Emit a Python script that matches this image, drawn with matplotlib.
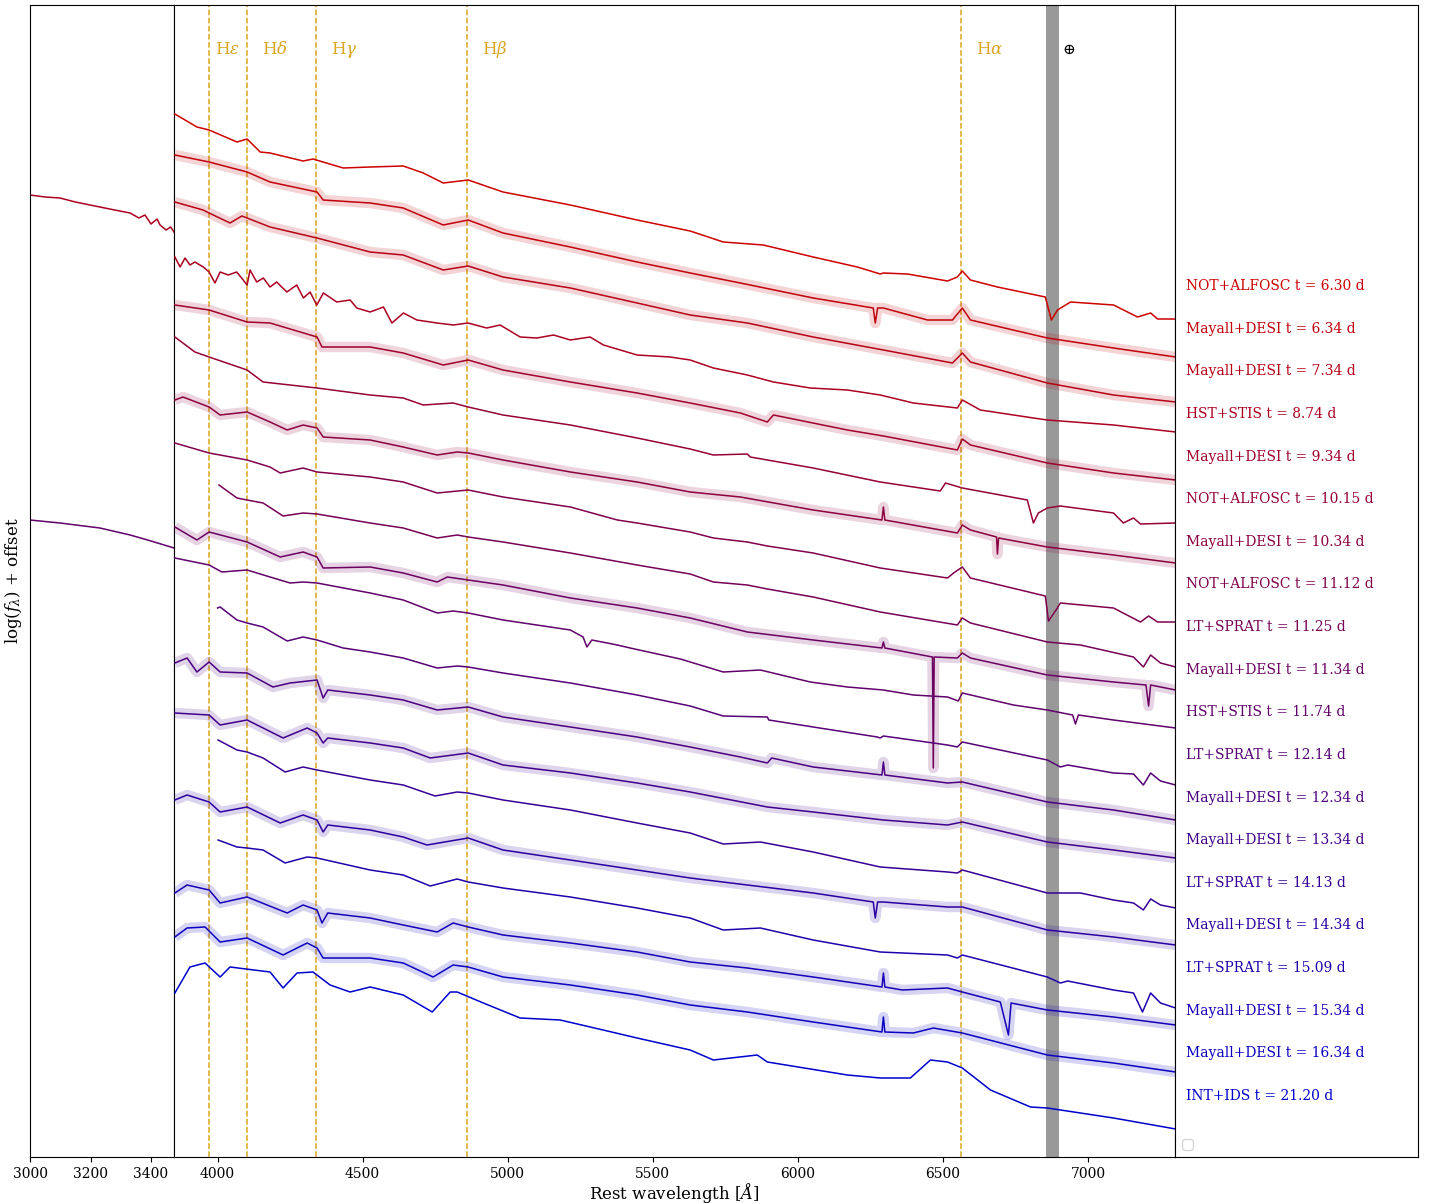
import numpy as np
import matplotlib
matplotlib.use('Agg')
import matplotlib.pyplot as plt

plt.rcParams['font.family'] = ['DejaVu Serif', 'DejaVu Sans']
plt.rcParams['mathtext.fontset'] = 'dejavuserif'

# ---------------- data (log f_lambda + offset, arbitrary units) ----------------
instruments = ["NOT+ALFOSC", "Mayall+DESI", "Mayall+DESI", "HST+STIS", "Mayall+DESI",
               "NOT+ALFOSC", "Mayall+DESI", "NOT+ALFOSC", "LT+SPRAT", "Mayall+DESI",
               "HST+STIS", "LT+SPRAT", "Mayall+DESI", "Mayall+DESI", "LT+SPRAT",
               "Mayall+DESI", "LT+SPRAT", "Mayall+DESI", "Mayall+DESI", "INT+IDS"]
phases = ["6.30", "6.34", "7.34", "8.74", "9.34", "10.15", "10.34", "11.12", "11.25", "11.34",
          "11.74", "12.14", "12.34", "13.34", "14.13", "14.34", "15.09", "15.34", "16.34", "21.20"]

balmer_wl = [3970.07, 4101.73, 4340.46, 4861.33, 6562.80]
balmer_names = [r'H$\epsilon$', r'H$\delta$', r'H$\gamma$', r'H$\beta$', r'H$\alpha$']
telluric = [6855, 6900]

# UV parts of the HST spectra (left panel)
wl_uv_874 = [3000, 3050, 3099, 3150, 3231, 3280, 3331, 3360, 3380, 3400, 3420, 3430, 3450, 3465, 3476]
f_uv_874 = [-195, -197, -198, -202, -207, -210, -213, -218, -215, -224, -219, -225, -230, -227, -232]
wl_uv_1174 = [3000, 3099, 3231, 3331, 3400, 3476]
f_uv_1174 = [-520, -523, -528, -535, -541, -548]

wl_01 = [3853, 3929, 3971, 4067, 4102, 4147, 4181, 4295, 4329, 4433, 4526, 4640, 4709, 4778, 4864, 4984,
         5216, 5446, 5629, 5743, 5881, 6053, 6205, 6284, 6295, 6378, 6516, 6550, 6567, 6595, 6688, 6853,
         6874, 6895, 6940, 7088, 7171, 7216, 7240, 7302]
f_01 = [-114, -127, -130, -142, -139, -152, -153, -161, -159, -168, -167, -166, -173, -183, -180, -192,
        -205, -220, -231, -242, -245, -257, -267, -274, -273, -274, -281, -277, -271, -280, -287, -297,
        -320, -310, -302, -305, -317, -313, -319, -319]

wl_02 = [3853, 3971, 4102, 4181, 4343, 4364, 4526, 4640, 4778, 4864, 4984, 5216, 5446, 5629, 5802, 6053,
         6260, 6267, 6275, 6295, 6447, 6533, 6567, 6595, 6860, 7088, 7302]
f_02 = [-155, -162, -172, -182, -192, -200, -203, -208, -225, -220, -233, -247, -262, -273, -283, -298,
        -308, -323, -308, -308, -320, -320, -308, -320, -338, -348, -357]

wl_03 = [3853, 3950, 3971, 4043, 4084, 4181, 4343, 4526, 4640, 4778, 4864, 4984, 5216, 5446, 5629, 5826,
         6053, 6295, 6533, 6567, 6595, 6860, 7088, 7302]
f_03 = [-202, -210, -213, -223, -216, -227, -238, -252, -255, -270, -266, -277, -288, -303, -315, -323,
        -337, -350, -363, -353, -362, -383, -395, -402]

wl_04 = [3853, 3871, 3888, 3905, 3922, 3951, 3971, 3991, 4009, 4037, 4066, 4083, 4102, 4112, 4135,
         4158, 4181, 4204, 4239, 4273, 4296, 4319, 4342, 4365, 4411, 4457, 4480, 4526, 4572, 4601,
         4641, 4687, 4756, 4813, 4863, 4928, 4974, 5043, 5101, 5158, 5216, 5284, 5330, 5446, 5560,
         5629, 5709, 5826, 5916, 6043, 6171, 6284, 6398, 6550, 6567, 6629, 6812, 6860, 7088, 7302]
f_04 = [-257, -267, -258, -265, -262, -267, -272, -283, -272, -275, -272, -278, -285, -270, -282,
        -278, -287, -282, -292, -285, -298, -292, -305, -293, -302, -300, -308, -312, -307, -323,
        -313, -320, -323, -325, -323, -328, -325, -337, -338, -335, -340, -337, -345, -355, -357,
        -360, -368, -375, -382, -388, -390, -395, -403, -408, -400, -410, -418, -420, -425, -432]

wl_05 = [3853, 3971, 4102, 4181, 4343, 4360, 4526, 4640, 4778, 4864, 4984, 5216, 5446, 5629, 5802, 5895,
         5916, 6171, 6295, 6550, 6567, 6595, 6860, 7088, 7302]
f_05 = [-305, -310, -322, -323, -337, -347, -347, -353, -365, -360, -370, -382, -393, -403, -413, -422,
        -415, -430, -436, -450, -439, -445, -463, -473, -480]

wl_06 = [3853, 3922, 3971, 4102, 4157, 4343, 4526, 4640, 4709, 4812, 4864, 4984, 5216, 5446, 5629, 5709,
         5826, 5836, 6053, 6284, 6491, 6509, 6567, 6791, 6812, 6829, 6860, 6905, 7088, 7122, 7157, 7181, 7302]
f_06 = [-337, -352, -357, -370, -382, -388, -395, -398, -405, -403, -407, -415, -425, -438, -449, -455,
        -454, -457, -468, -482, -491, -483, -488, -500, -523, -513, -508, -506, -513, -523, -518, -524, -523]

wl_07 = [3853, 3881, 3971, 4009, 4102, 4181, 4240, 4295, 4343, 4364, 4526, 4640, 4757, 4826, 4864, 4984,
         5216, 5446, 5629, 5802, 6053, 6290, 6295, 6300, 6550, 6567, 6595, 6685, 6688, 6692, 6860, 7088, 7302]
f_07 = [-400, -397, -407, -415, -412, -422, -430, -425, -428, -437, -440, -447, -455, -452, -453, -460,
        -472, -482, -492, -497, -510, -520, -507, -520, -533, -525, -530, -537, -554, -538, -547, -555, -563]

wl_08 = [3853, 3971, 4102, 4181, 4216, 4295, 4343, 4526, 4640, 4757, 4864, 4984, 5216, 5378, 5446, 5629,
         5709, 5826, 5895, 6053, 6284, 6516, 6537, 6567, 6595, 6853, 6864, 6890, 6905, 7088, 7181, 7209,
         7240, 7302]
f_08 = [-443, -453, -460, -467, -473, -468, -472, -477, -482, -493, -490, -497, -507, -520, -523, -532,
        -538, -542, -546, -553, -568, -578, -573, -567, -578, -596, -621, -610, -603, -608, -622, -616,
        -622, -622]

wl_09 = [4005, 4067, 4102, 4157, 4226, 4295, 4343, 4526, 4640, 4757, 4826, 4864, 4984, 5216, 5446, 5629,
         5709, 5826, 5895, 6053, 6284, 6550, 6567, 6595, 6860, 6974, 7157, 7191, 7216, 7250, 7302]
f_09 = [-485, -498, -500, -503, -516, -513, -514, -523, -528, -538, -535, -537, -542, -553, -565, -574,
        -582, -585, -589, -597, -612, -625, -618, -623, -642, -645, -657, -667, -655, -663, -667]

wl_10 = [3853, 3929, 3971, 4102, 4216, 4295, 4343, 4364, 4526, 4640, 4757, 4792, 4864, 4984, 5216, 5446,
         5629, 5826, 6053, 6290, 6295, 6300, 6464, 6467, 6470, 6550, 6567, 6595, 6860, 7088, 7200, 7209,
         7216, 7302]
f_10 = [-527, -540, -532, -542, -557, -552, -557, -568, -567, -573, -582, -577, -580, -585, -598, -608,
        -618, -632, -640, -648, -642, -648, -657, -768, -657, -658, -653, -658, -675, -682, -685, -706,
        -685, -690]

wl_11 = [3853, 3971, 4015, 4102, 4181, 4250, 4295, 4343, 4526, 4640, 4757, 4812, 4864, 4984, 5216, 5260,
         5273, 5290, 5378, 5422, 5595, 5743, 5871, 6043, 6171, 6295, 6398, 6516, 6553, 6567, 6743, 6860,
         6947, 6957, 6967, 7088, 7302]
f_11 = [-558, -565, -572, -570, -577, -583, -582, -583, -593, -600, -613, -611, -613, -620, -630, -637,
        -647, -640, -645, -648, -659, -672, -670, -682, -687, -690, -695, -697, -701, -693, -705, -710,
        -715, -724, -715, -720, -728]

wl_12 = [4000, 4009, 4067, 4102, 4157, 4240, 4295, 4343, 4433, 4526, 4640, 4757, 4826, 4864, 4984, 5216,
         5446, 5629, 5743, 5895, 5900, 6053, 6274, 6284, 6295, 6516, 6550, 6567, 6860, 6905, 6930, 7088,
         7157, 7191, 7216, 7250, 7302]
f_12 = [-608, -607, -620, -623, -627, -641, -637, -640, -648, -652, -658, -668, -666, -667, -673, -683,
        -695, -706, -716, -717, -720, -727, -737, -738, -736, -745, -747, -742, -760, -767, -765, -773,
        -774, -785, -773, -781, -785]

wl_13 = [3853, 3895, 3929, 3971, 4009, 4102, 4191, 4250, 4343, 4364, 4380, 4526, 4640, 4757, 4864, 4984,
         5216, 5446, 5629, 5802, 5895, 5910, 6053, 6290, 6295, 6300, 6516, 6567, 6860, 7088, 7302]
f_13 = [-663, -658, -672, -662, -672, -673, -687, -683, -680, -698, -690, -695, -700, -710, -707, -717,
        -727, -737, -747, -757, -763, -758, -767, -775, -762, -775, -783, -782, -802, -810, -820]

wl_14 = [3853, 3971, 4009, 4102, 4226, 4309, 4343, 4364, 4380, 4526, 4640, 4733, 4864, 4984, 5216, 5446,
         5629, 5895, 6053, 6295, 6516, 6567, 6860, 7088, 7302]
f_14 = [-713, -715, -725, -720, -738, -728, -733, -743, -738, -743, -748, -758, -753, -765, -773, -783,
        -792, -807, -812, -820, -825, -822, -842, -850, -858]

wl_15 = [4002, 4067, 4102, 4157, 4233, 4295, 4343, 4526, 4640, 4750, 4826, 4864, 4984, 5216, 5446, 5629,
         5743, 5871, 6053, 6284, 6516, 6550, 6567, 6860, 6974, 7088, 7157, 7191, 7216, 7250, 7302]
f_15 = [-740, -750, -752, -758, -772, -767, -770, -780, -785, -796, -792, -793, -800, -810, -823, -833,
        -844, -842, -852, -867, -872, -873, -870, -893, -893, -900, -903, -910, -899, -905, -908]

wl_16 = [3853, 3895, 3971, 4009, 4102, 4216, 4295, 4343, 4364, 4380, 4526, 4640, 4722, 4864, 4984, 5216,
         5446, 5629, 5826, 6053, 6260, 6267, 6275, 6295, 6516, 6567, 6860, 7088, 7302]
f_16 = [-800, -795, -802, -812, -807, -823, -815, -820, -832, -825, -830, -837, -845, -838, -850, -860,
        -870, -878, -885, -893, -902, -918, -902, -902, -907, -907, -930, -937, -945]

wl_17 = [4002, 4067, 4102, 4157, 4233, 4309, 4343, 4526, 4640, 4733, 4826, 4864, 4984, 5216, 5446, 5629,
         5743, 5871, 6053, 6284, 6516, 6550, 6567, 6860, 6905, 6930, 7088, 7157, 7188, 7216, 7250, 7302]
f_17 = [-840, -847, -848, -850, -863, -857, -858, -870, -875, -886, -879, -882, -888, -897, -908, -918,
        -930, -928, -940, -952, -955, -958, -955, -977, -983, -981, -990, -993, -1012, -993, -1003, -1008]

wl_18 = [3853, 3895, 3971, 4009, 4102, 4240, 4295, 4343, 4360, 4380, 4526, 4640, 4757, 4812, 4864, 4984,
         5216, 5446, 5629, 5826, 6053, 6290, 6295, 6300, 6360, 6516, 6567, 6698, 6726, 6735, 6860, 7088, 7302]
f_18 = [-893, -885, -890, -903, -897, -913, -905, -910, -923, -913, -918, -925, -932, -923, -927, -935,
        -943, -952, -962, -968, -977, -987, -973, -987, -990, -988, -992, -1002, -1035, -1003, -1010, -1017, -1025]

wl_19 = [3853, 3895, 3957, 4009, 4102, 4226, 4309, 4343, 4364, 4526, 4640, 4743, 4812, 4864, 4984, 5216,
         5446, 5629, 5826, 6053, 6290, 6295, 6300, 6398, 6467, 6567, 6860, 7088, 7302]
f_19 = [-937, -928, -927, -942, -938, -955, -943, -948, -958, -958, -963, -977, -965, -967, -977, -985,
        -995, -1005, -1012, -1022, -1032, -1017, -1032, -1033, -1028, -1033, -1055, -1063, -1072]

wl_20 = [3853, 3905, 3957, 4009, 4043, 4181, 4226, 4274, 4329, 4388, 4457, 4526, 4640, 4740, 4802, 4826,
         4916, 5043, 5181, 5329, 5446, 5629, 5709, 5860, 5895, 6171, 6284, 6388, 6457, 6516, 6567, 6664,
         6802, 6860, 7088, 7302]
f_20 = [-993, -967, -963, -977, -967, -972, -988, -973, -972, -985, -992, -987, -995, -1012, -992, -992,
        -1003, -1018, -1020, -1030, -1038, -1050, -1060, -1055, -1062, -1075, -1078, -1078, -1060, -1062, -1068, -1090,
        -1107, -1108, -1118, -1129]

spectra_wl = [wl_01, wl_02, wl_03, wl_04, wl_05, wl_06, wl_07, wl_08, wl_09, wl_10,
              wl_11, wl_12, wl_13, wl_14, wl_15, wl_16, wl_17, wl_18, wl_19, wl_20]
spectra_f = [f_01, f_02, f_03, f_04, f_05, f_06, f_07, f_08, f_09, f_10,
             f_11, f_12, f_13, f_14, f_15, f_16, f_17, f_18, f_19, f_20]

# ---------------- figure ----------------
W, H = 1429, 1204
fig = plt.figure(figsize=(W / 100, H / 100), dpi=100)
bot, hgt = 47 / H, 1152 / H
ax_uv = fig.add_axes([30 / W, bot, 144 / W, hgt])
ax = fig.add_axes([174 / W, bot, 1001 / W, hgt])
ax_lab = fig.add_axes([1175 / W, bot, 243 / W, hgt])

ylim = (-1157, -5)
n = len(spectra_wl)
colors = [(0.8 * (1 - i / (n - 1)), 0.0, 0.8 * i / (n - 1)) for i in range(n)]

for i in range(n):
    c = colors[i]
    if instruments[i] == "Mayall+DESI":
        ax.plot(spectra_wl[i], spectra_f[i], color=c, lw=7.5, alpha=0.17, solid_joinstyle='round',
                solid_capstyle='butt', zorder=2)
    ax.plot(spectra_wl[i], spectra_f[i], color=c, lw=1.1, zorder=3)

ax_uv.plot(wl_uv_874, f_uv_874, color=colors[3], lw=1.1)
ax_uv.plot(wl_uv_1174, f_uv_1174, color=colors[10], lw=1.1)

gold = '#DAA520'
for wl0, name in zip(balmer_wl, balmer_names):
    ax.axvline(wl0, color=gold, ls='--', lw=1.1, zorder=1)
    dx = 20 if name == r'H$\epsilon$' else 50
    ax.text(wl0 + dx, -50, name, color=gold, fontsize=12, va='center', ha='left')

ax.axvspan(telluric[0], telluric[1], color='#999999', zorder=0, lw=0)
ax.text(6933, -50, r'$\oplus$', color='black', fontsize=11, va='center', ha='center')

ax.set_xlim(3850, 7300)
ax.set_ylim(*ylim)
ax.set_yticks([])
ax.set_xticks([4000, 4500, 5000, 5500, 6000, 6500, 7000])
ax.set_xlabel(r'Rest wavelength [$\AA$]', fontsize=12, labelpad=0)

ax_uv.set_xlim(3000, 3476)
ax_uv.set_ylim(*ylim)
ax_uv.set_yticks([])
ax_uv.set_xticks([3000, 3200, 3400])
ax_uv.set_ylabel(r'log($f_\lambda$) + offset', fontsize=12)

ax_lab.set_xlim(0, 1)
ax_lab.set_ylim(*ylim)
ax_lab.set_xticks([])
ax_lab.set_yticks([])
label_y = np.linspace(-286, -1096, n)
for i in range(n):
    ax_lab.text(0.045, label_y[i], f"{instruments[i]} t = {phases[i]} d", color=colors[i],
                fontsize=10, va='center', ha='left')
ax_lab.legend(handles=[], loc='lower left')

for a in (ax_uv, ax, ax_lab):
    a.tick_params(labelsize=10)

fig.savefig('out.png', dpi=100)
